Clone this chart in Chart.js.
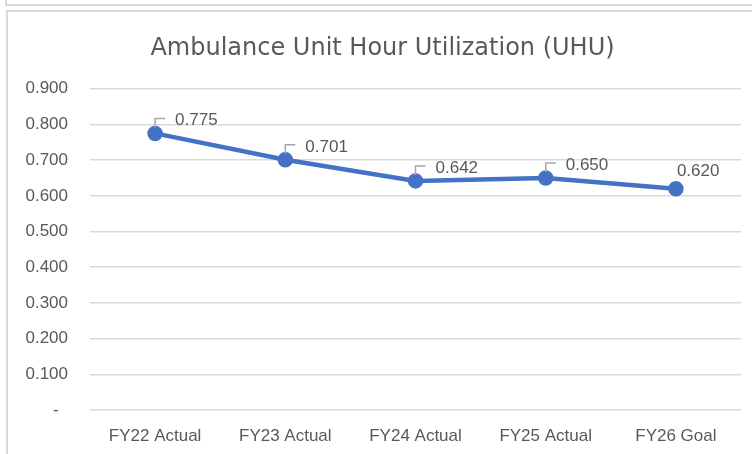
<!DOCTYPE html>
<html>
<head>
<meta charset="utf-8">
<script src="https://cdn.jsdelivr.net/npm/chart.js@4/dist/chart.umd.min.js"></script>
<style>
  body { margin: 0; background: #fff; width: 752px; height: 454px; overflow: hidden; position: relative; }
  .frame-top { position: absolute; left: 5px; top: -2px; width: 760px; height: 6px; border-left: 2px solid #d9d9d9; border-bottom: 2px solid #d9d9d9; }
  .frame { position: absolute; left: 6px; top: 10px; width: 760px; height: 460px; border-left: 2px solid #d9d9d9; border-top: 2px solid #d9d9d9; }
  canvas { position: absolute; left: 0; top: 0; }
</style>
</head>
<body>
<div class="frame-top"></div>
<div class="frame"></div>
<canvas id="uhuChart" width="752" height="454"></canvas>
<script>
// 数据
const categories = ['FY22 Actual', 'FY23 Actual', 'FY24 Actual', 'FY25 Actual', 'FY26 Goal'];
const uhuValues = [0.775, 0.701, 0.642, 0.650, 0.620];
const yTicks = [0, 0.1, 0.2, 0.3, 0.4, 0.5, 0.6, 0.7, 0.8, 0.9];

const TEXT_COLOR = '#595959';
const LINE_COLOR = '#4472C4';
const FONT = '"Liberation Sans", Arial, sans-serif';
const TITLE_FONT = '"DejaVu Sans", sans-serif';

// 数据标签 + 引导线
const dataLabelPlugin = {
    id: 'dataLabels',
    afterDatasetsDraw(chart) {
        const ctx = chart.ctx;
        const meta = chart.getDatasetMeta(0);
        ctx.save();
        ctx.font = `17px ${FONT}`;
        ctx.fillStyle = TEXT_COLOR;
        ctx.textBaseline = 'middle';
        ctx.textAlign = 'left';
        meta.data.forEach((pt, i) => {
            const text = uhuValues[i].toFixed(3);
            if (i < meta.data.length - 1) {
                ctx.strokeStyle = '#a6a6a6';
                ctx.lineWidth = 1.5;
                ctx.beginPath();
                ctx.moveTo(pt.x, pt.y - 6);
                ctx.lineTo(pt.x, pt.y - 15);
                ctx.lineTo(pt.x + 10, pt.y - 15);
                ctx.stroke();
                ctx.fillText(text, pt.x + 20, pt.y - 13);
            } else {
                ctx.fillText(text, pt.x + 1, pt.y - 17);
            }
        });
        ctx.restore();
    }
};

new Chart(document.getElementById('uhuChart'), {
    type: 'line',
    data: {
        labels: categories,
        datasets: [{
            data: uhuValues,
            borderColor: LINE_COLOR,
            backgroundColor: LINE_COLOR,
            borderWidth: 4.5,
            pointRadius: 5.5,
            pointHoverRadius: 5.5,
            tension: 0
        }]
    },
    options: {
        responsive: false,
        animation: false,
        devicePixelRatio: 1,
        layout: { padding: { left: 24, right: 11, top: 0, bottom: 0 } },
        plugins: {
            legend: { display: false },
            tooltip: { enabled: false },
            title: {
                display: true,
                text: 'Ambulance Unit Hour Utilization (UHU)',
                color: TEXT_COLOR,
                font: { family: TITLE_FONT, size: 24, weight: 'normal' },
                padding: { top: 34, bottom: 26 }
            }
        },
        scales: {
            x: {
                offset: true,
                afterFit: s => { s.height = 44; },
                grid: { display: false, drawTicks: false },
                border: { display: false },
                ticks: {
                    color: TEXT_COLOR,
                    font: { family: FONT, size: 17 },
                    padding: 16,
                    maxRotation: 0
                }
            },
            y: {
                min: 0,
                max: 0.9,
                afterFit: s => { s.width = 66; },
                afterBuildTicks: s => { s.ticks = yTicks.map(v => ({ value: v })); },
                grid: { color: '#d9d9d9', lineWidth: 1.5, drawTicks: false },
                border: { display: false },
                ticks: {
                    color: TEXT_COLOR,
                    font: { family: FONT, size: 17 },
                    padding: 22,
                    callback: v => v === 0 ? '-  ' : v.toFixed(3)
                }
            }
        }
    },
    plugins: [dataLabelPlugin]
});
</script>
</body>
</html>
